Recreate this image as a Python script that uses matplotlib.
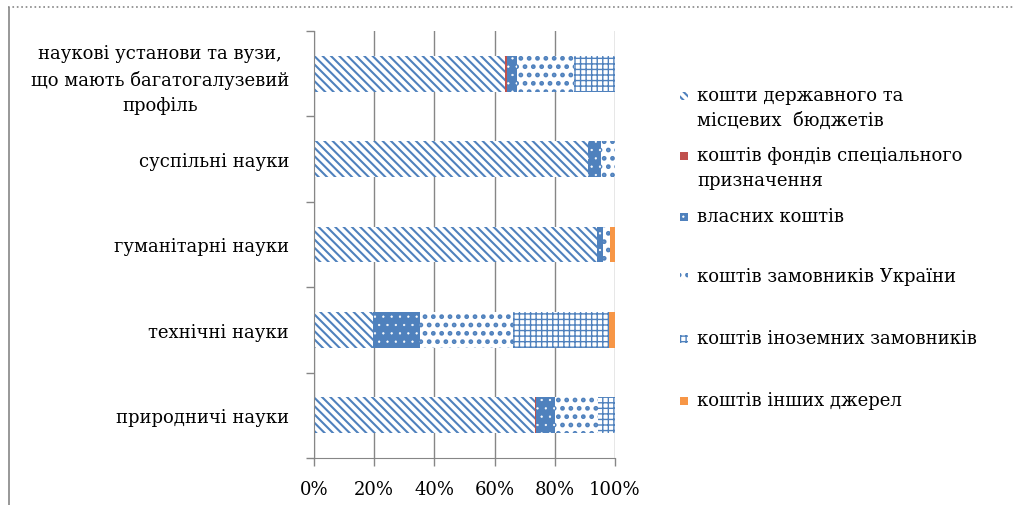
import numpy as np
import matplotlib
matplotlib.use("Agg")
import matplotlib.pyplot as plt
from matplotlib.patches import Rectangle
from matplotlib.lines import Line2D

plt.rcParams['font.family'] = ['DejaVu Serif']

# категорії (зверху вниз)
categories = [
    "наукові установи та вузи,\nщо мають багатогалузевий\nпрофіль",
    "суспільні науки",
    "гуманітарні науки",
    "технічні науки",
    "природничі науки",
]

series_names = [
    "кошти державного та\nмісцевих  бюджетів",
    "коштів фондів спеціального\nпризначення",
    "власних коштів",
    "коштів замовників України",
    "коштів іноземних замовників",
    "коштів інших джерел",
]

# частки, %
state_budget = [63.5, 90.9, 93.9, 19.5, 73.4]
special_funds = [0.7, 0.0, 0.0, 0.0, 0.5]
own_funds = [3.3, 4.6, 2.0, 15.7, 6.1]
ukr_customers = [19.0, 4.5, 2.4, 30.8, 14.5]
foreign_customers = [13.5, 0.0, 0.0, 32.1, 5.5]
other_sources = [0.0, 0.0, 1.7, 1.9, 0.0]

BLUE = "#4F81BD"
RED = "#C0504D"
ORANGE = "#F79646"
GRAY = "#868686"

styles = [
    dict(facecolor="white", edgecolor=BLUE, hatch="\\\\\\\\"),
    dict(facecolor=RED, edgecolor=RED, hatch=None),
    dict(facecolor=BLUE, edgecolor="white", hatch=".."),
    dict(facecolor="white", edgecolor=BLUE, hatch=".."),
    dict(facecolor="white", edgecolor=BLUE, hatch="+++"),
    dict(facecolor=ORANGE, edgecolor=ORANGE, hatch=None),
]
hatch_lw = [1.5, 1.0, 0.4, 2.2, 1.0, 1.0]

data = [state_budget, special_funds, own_funds, ukr_customers,
        foreign_customers, other_sources]


def set_hlw(patch, lw):
    if hasattr(patch, "set_hatch_linewidth"):
        patch.set_hatch_linewidth(lw)


W, H = 1013, 506
fig = plt.figure(figsize=(W / 100, H / 100), dpi=100)
ax = fig.add_axes([314 / W, 1 - 459 / H, (615 - 314) / W, (459 - 32) / H])

y = np.arange(len(categories))
left = np.zeros(len(categories))
for vals, st, lw in zip(data, styles, hatch_lw):
    vals = np.array(vals)
    with plt.rc_context({'hatch.linewidth': lw}):
        bars = ax.barh(y, vals, left=left, height=0.42, linewidth=0, **st)
    for b in bars:
        set_hlw(b, lw)
    left += vals

ax.set_xlim(0, 100)
ax.set_ylim(len(categories) - 0.5, -0.5)
ax.set_xticks(np.arange(0, 101, 20))
ax.set_xticklabels([f"{v}%" for v in range(0, 101, 20)], fontsize=13)
ax.set_yticks(y)
ax.set_yticklabels(categories, fontsize=13)
ax.set_yticks(np.arange(-0.5, len(categories), 1), minor=True)
ax.tick_params(axis="y", which="major", length=0, pad=18)
ax.tick_params(axis="y", which="minor", length=6, color=GRAY, width=1)
ax.tick_params(axis="x", length=6, color=GRAY, width=1, pad=10)
ax.get_yticklabels()[0].set_multialignment("center")
ax.get_yticklabels()[0].set_linespacing(1.5)

ax.grid(axis="x", color=GRAY, linewidth=1)
ax.set_axisbelow(True)
for side in ["top", "right"]:
    ax.spines[side].set_visible(False)
for side in ["left", "bottom"]:
    ax.spines[side].set_color(GRAY)

# легенда
leg_y = [97, 157, 218, 278, 340, 402]
for name, st, lw, yy in zip(series_names, styles, hatch_lw, leg_y):
    with plt.rc_context({'hatch.linewidth': lw}):
        r = Rectangle((680 / W, 1 - (yy + 4) / H), 8 / W, 8 / H,
                      transform=fig.transFigure, linewidth=0, **st)
    set_hlw(r, lw)
    fig.add_artist(r)
    fig.text(697 / W, 1 - (yy - 10) / H, name, fontsize=13, va="top",
             ha="left", linespacing=1.5)

# рамка
fig.add_artist(Line2D([8 / W, 1], [1 - 8 / H, 1 - 8 / H], color=GRAY,
                      linestyle=":", linewidth=1.2, transform=fig.transFigure))
fig.add_artist(Line2D([9 / W, 9 / W], [1 - 9 / H, 0], color=GRAY,
                      linewidth=1.2, transform=fig.transFigure))

fig.savefig("out.png", dpi=100)
